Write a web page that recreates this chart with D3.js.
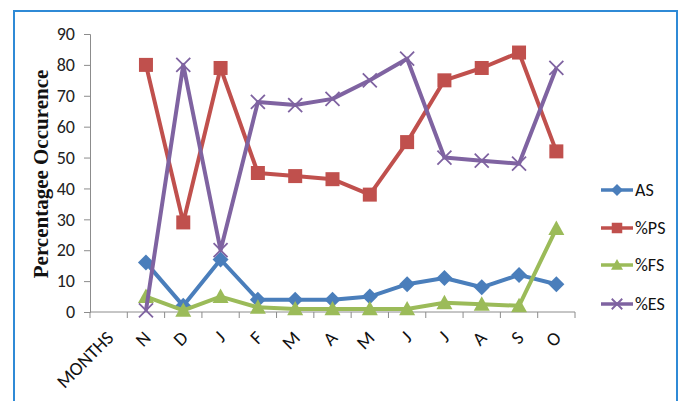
<!DOCTYPE html>
<html>
<head>
<meta charset="utf-8">
<script src="https://cdn.jsdelivr.net/npm/d3@7/dist/d3.min.js"></script>
<style>
  html, body { margin: 0; padding: 0; background: #fff; }
  svg { display: block; }
</style>
</head>
<body>
<svg id="chart" width="682" height="401"></svg>
<script>
// Categories along the x axis (first slot is the axis caption)
const categories = ["MONTHS", "N", "D", "J", "F", "M", "A", "M", "J", "J", "A", "S", "O"];
const yTicks = [0, 10, 20, 30, 40, 50, 60, 70, 80, 90];

// Series values per month (N .. O); null where nothing is plotted
const asValues = [null, 16, 2, 17, 4, 4, 4, 5, 9, 11, 8, 12, 9];
const psValues = [null, 80, 29, 79, 45, 44, 43, 38, 55, 75, 79, 84, 52];
const fsValues = [null, 5, 0.5, 5, 1.5, 1, 1, 1, 1, 3, 2.5, 2, 27];
const esValues = [null, 0.5, 80, 20, 68, 67, 69, 75, 82, 50, 49, 48, 79];

const seriesNames = ["AS", "%PS", "%FS", "%ES"];
const seriesColors = ["#4a7ebb", "#c0504d", "#9bbb59", "#7f63a1"];
const seriesMarkers = ["diamond", "square", "triangle", "cross"];
const seriesData = [asValues, psValues, fsValues, esValues];

const svg = d3.select("#chart");

// outer frame
svg.append("rect")
  .attr("x", 14).attr("y", 11)
  .attr("width", 663).attr("height", 400)
  .attr("fill", "none").attr("stroke", "#2f8ad6").attr("stroke-width", 2);

const plot = { left: 90, right: 575, top: 34, bottom: 312 };

const x = d3.scaleBand().domain(d3.range(categories.length))
  .range([plot.left, plot.right]).paddingInner(0).paddingOuter(0);
const y = d3.scaleLinear().domain([0, 90]).range([plot.bottom, plot.top]);

const tickFont = "Carlito, Calibri, 'Liberation Sans Narrow', 'Open Sans', Arial, sans-serif";

// y axis
const yAxis = svg.append("g")
  .attr("transform", `translate(${plot.left},0)`)
  .call(d3.axisLeft(y).tickValues(yTicks).tickSize(6).tickPadding(9));
yAxis.select(".domain").attr("stroke", "#8c8c8c");
yAxis.selectAll(".tick line").attr("stroke", "#8c8c8c");
yAxis.selectAll(".tick text")
  .attr("font-family", tickFont).attr("font-size", 18).attr("fill", "#222");

// x axis: ticks between categories
const xAxisG = svg.append("g");
xAxisG.append("line")
  .attr("x1", plot.left).attr("x2", plot.right)
  .attr("y1", y(0)).attr("y2", y(0))
  .attr("stroke", "#8c8c8c");
const boundaries = d3.range(categories.length + 1).map(i =>
  i < categories.length ? x(i) : x(categories.length - 1) + x.bandwidth());
xAxisG.selectAll("line.xt").data(boundaries).enter().append("line")
  .attr("class", "xt")
  .attr("x1", d => d).attr("x2", d => d)
  .attr("y1", y(0)).attr("y2", y(0) + 6)
  .attr("stroke", "#8c8c8c");
xAxisG.selectAll("text").data(categories).enter().append("text")
  .attr("transform", (d, i) => `translate(${x(i) + x.bandwidth() / 2 + 6},${y(0) + 27}) rotate(-45)`)
  .attr("text-anchor", "end")
  .attr("font-family", tickFont).attr("font-size", 19).attr("fill", "#111")
  .text(d => d);

// y axis title
svg.append("text")
  .attr("transform", `translate(48,${174}) rotate(-90)`)
  .attr("text-anchor", "middle")
  .attr("font-family", "'Liberation Serif', 'Times New Roman', serif")
  .attr("font-weight", "bold").attr("font-size", 21).attr("fill", "#111")
  .text("Percentagee Occurence");

// marker shapes
function drawMarker(g, type, cx, cy, color, scale) {
  const s = scale || 1;
  if (type === "diamond") {
    const r = 8 * s;
    g.append("path")
      .attr("d", `M${cx},${cy - r}L${cx + r},${cy}L${cx},${cy + r}L${cx - r},${cy}Z`)
      .attr("fill", color);
  } else if (type === "square") {
    const h = 7 * s;
    g.append("rect").attr("x", cx - h).attr("y", cy - h)
      .attr("width", 2 * h).attr("height", 2 * h).attr("fill", color);
  } else if (type === "triangle") {
    const h = 8 * s;
    g.append("path")
      .attr("d", `M${cx},${cy - h}L${cx + h},${cy + h * 0.8}L${cx - h},${cy + h * 0.8}Z`)
      .attr("fill", color);
  } else if (type === "cross") {
    const h = 7 * s;
    g.append("path")
      .attr("d", `M${cx - h},${cy - h}L${cx + h},${cy + h}M${cx - h},${cy + h}L${cx + h},${cy - h}`)
      .attr("stroke", color).attr("stroke-width", 1.8).attr("fill", "none");
  }
}

const line = d3.line()
  .defined(d => d.v !== null)
  .x(d => x(d.i) + x.bandwidth() / 2)
  .y(d => y(d.v));

seriesData.forEach((vals, k) => {
  const pts = vals.map((v, i) => ({ i, v }));
  const g = svg.append("g");
  g.append("path")
    .datum(pts)
    .attr("d", line)
    .attr("fill", "none")
    .attr("stroke", seriesColors[k])
    .attr("stroke-width", 4)
    .attr("stroke-linejoin", "round");
  pts.filter(d => d.v !== null).forEach(d => {
    drawMarker(g, seriesMarkers[k], x(d.i) + x.bandwidth() / 2, y(d.v), seriesColors[k]);
  });
});

// legend
const legendY = [190, 228, 265, 304];
seriesNames.forEach((name, k) => {
  const g = svg.append("g");
  g.append("line")
    .attr("x1", 601).attr("x2", 633)
    .attr("y1", legendY[k]).attr("y2", legendY[k])
    .attr("stroke", seriesColors[k]).attr("stroke-width", 3.5);
  drawMarker(g, seriesMarkers[k], 617, legendY[k], seriesColors[k], 0.75);
  g.append("text")
    .attr("x", 635).attr("y", legendY[k] + 6)
    .attr("font-family", tickFont).attr("font-size", 18).attr("fill", "#111")
    .text(name);
});
</script>
</body>
</html>
